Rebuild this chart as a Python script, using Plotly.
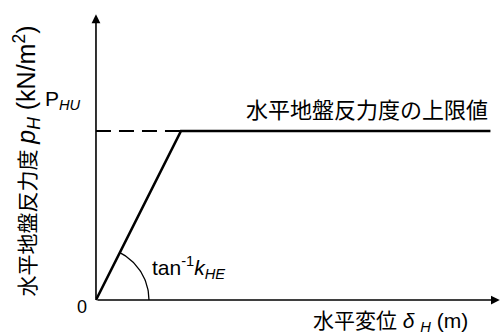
import numpy as np
import plotly.graph_objects as go

# 水平変位 δH と 水平地盤反力度 pH（折れ点を 1 とした相対値）
disp = [0.0, 1.0, 4.64]
react = [0.0, 1.0, 1.0]
limit_x = [0.0, 1.0]
limit_y = [1.0, 1.0]
x_end, y_end = 4.75, 1.69

JP = "Liberation Sans, Noto Sans CJK JP"

# 角度記号 tan⁻¹kHE の円弧（画面上で円になるよう x,y で縮尺を変える）
px_x, px_y = 85.0, 169.0
ang = np.arctan2(react[1] * px_y, disp[1] * px_x)
t = np.linspace(0, ang, 40)
r = 53.0
arc_x = r * np.cos(t) / px_x
arc_y = r * np.sin(t) / px_y

fig = go.Figure()
fig.add_trace(go.Scatter(x=limit_x, y=limit_y, mode="lines",
                         line=dict(color="black", width=2, dash="15px,8px"), hoverinfo="skip"))
fig.add_trace(go.Scatter(x=disp, y=react, mode="lines",
                         line=dict(color="black", width=2.6), hoverinfo="skip"))
fig.add_trace(go.Scatter(x=arc_x, y=arc_y, mode="lines",
                         line=dict(color="black", width=1.3), hoverinfo="skip"))

# 座標軸（矢印）
for tx, ty in [(x_end, 0), (0, y_end)]:
    fig.add_annotation(x=tx, y=ty, ax=0, ay=0, xref="x", yref="y", axref="x", ayref="y",
                       text="", showarrow=True, arrowhead=2, arrowsize=1.1,
                       arrowwidth=1.6, arrowcolor="black")

def label(x, y, text, size, xanchor="center", angle=0):
    fig.add_annotation(x=x, y=y, xref="x", yref="y", text=text, showarrow=False,
                       xanchor=xanchor, yanchor="middle", textangle=angle,
                       font=dict(family=JP, size=size, color="black"))

label(4.635, 1.124, "水平地盤反力度の上限値", 22, "right")
label(-0.39, 1.183, "P<sub><i>HU</i></sub>", 21)
label(-0.17, -0.04, "0", 18)
label(0.63, 0.19, "tan<sup>-1</sup><i>k<sub>HE</sub></i>", 21, "left")
label(4.4, -0.13, "水平変位 <i>δ</i> <sub><i>H</i></sub> (m)", 21, "right")
label(-0.81, 0.82, "水平地盤反力度 <span style='font-size:25px'><i>p<sub>H</sub></i> "
      "(kN/m<sup>2</sup>)</span>", 21, angle=-90)

fig.update_layout(
    width=502, height=334, margin=dict(l=0, r=0, t=0, b=0),
    paper_bgcolor="white", plot_bgcolor="white", showlegend=False,
    xaxis=dict(range=[-1.129, 4.776], visible=False, fixedrange=True),
    yaxis=dict(range=[-0.201, 1.775], visible=False, fixedrange=True),
)
fig.write_html("out.html", config={"displayModeBar": False},
               post_script="document.body.style.margin='0';")
